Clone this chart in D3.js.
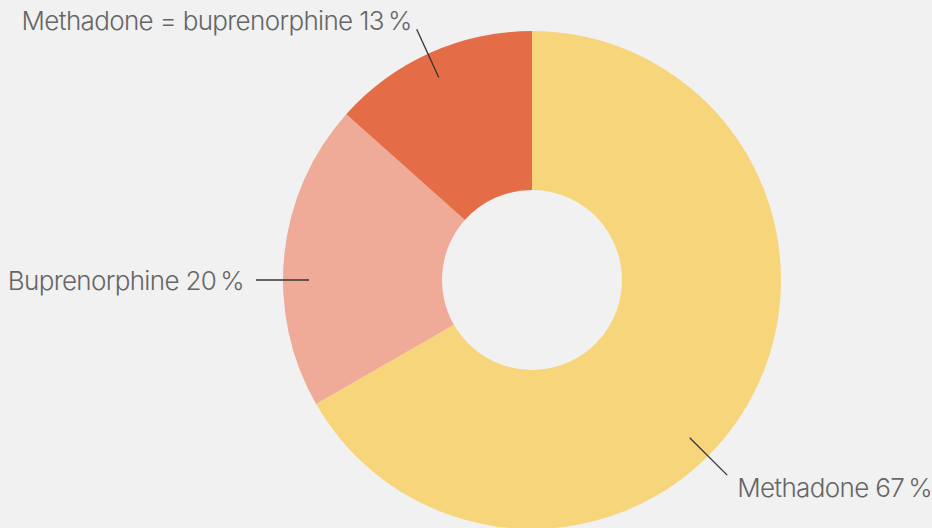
<!DOCTYPE html>
<html><head><meta charset="utf-8">
<script src="https://cdn.jsdelivr.net/npm/d3@7"></script>
<style>
html,body{margin:0;padding:0;background:#f1f1f1;}
svg{display:block;}
text{font-family:"Inter","Roboto",sans-serif;fill:#666;font-weight:300;letter-spacing:-0.65px;}
</style></head>
<body>
<svg id="chart" width="932" height="528"></svg>
<script>
const categories = ["Methadone", "Buprenorphine", "Methadone = buprenorphine"];
const values = [66.7, 19.9, 13.4];
const colors = ["#F6D57B", "#EFAB98", "#E46D47"];
const labelAngles = [135, 270, 335.3]; // degrees clockwise from top, leader line direction

const W = 932, H = 528;
const cx = 532, cy = 280, R = 249, r0 = 90;
const svg = d3.select("#chart");
svg.append("rect").attr("width", W).attr("height", H).attr("fill", "#f1f1f1");
const g = svg.append("g").attr("transform", `translate(${cx},${cy})`);

const pie = d3.pie().sort(null).value(d => d)(values);
const arc = d3.arc().innerRadius(r0).outerRadius(R);
g.selectAll("path.slice").data(pie).enter().append("path")
  .attr("class", "slice").attr("d", arc).attr("fill", (d, i) => colors[i]);

const lineIn = 223, lineOut = 276;
const pt = (deg, rad) => { const a = deg * Math.PI / 180; return [Math.sin(a) * rad, -Math.cos(a) * rad]; };
categories.forEach((c, i) => {
  const a = labelAngles[i];
  const p1 = pt(a, lineIn), p2 = pt(a, lineOut);
  g.append("line").attr("x1", p1[0]).attr("y1", p1[1]).attr("x2", p2[0]).attr("y2", p2[1])
    .attr("stroke", "#333").attr("stroke-width", 1.3);
  const s = Math.sin(a * Math.PI / 180), co = -Math.cos(a * Math.PI / 180);
  let tx, ty, anchor;
  if (Math.abs(s) > 0.9) { tx = p2[0] - 12; ty = p2[1] + 10; anchor = "end"; }
  else if (co > 0) { tx = p2[0] + 10; ty = p2[1] + 22; anchor = "start"; }
  else { tx = p2[0] - 5; ty = p2[1] + 1; anchor = "end"; }
  g.append("text").attr("x", tx).attr("y", ty).attr("text-anchor", anchor)
    .attr("font-size", 26).text(`${c} ${Math.round(values[i])}\u2009%`);
});
</script>
</body></html>
